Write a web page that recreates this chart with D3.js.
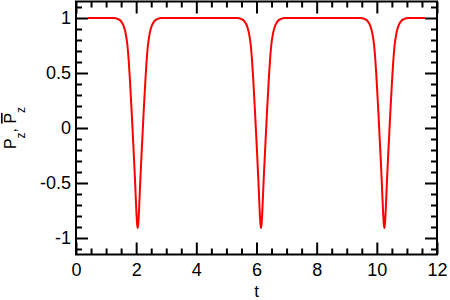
<!DOCTYPE html>
<html>
<head>
<meta charset="utf-8">
<script src="https://cdn.jsdelivr.net/npm/d3@7"></script>
<style>
  body { margin: 0; background: white; }
  text { font-family: 'Liberation Sans', Arial, sans-serif; }
</style>
</head>
<body>
<div id="canvas"></div>
<script>
'use strict';

// Series: time t and polarisation P_z
var T_VALUES = [
  0.4, 0.8, 1.25, 1.4, 1.5, 1.58, 1.65, 1.71, 1.75, 1.79, 1.85, 1.905, 1.96, 2.005, 2.03,
  2.05, 2.07, 2.095, 2.14, 2.195, 2.25, 2.31, 2.35, 2.39, 2.45, 2.52, 2.6, 2.7, 2.85, 4.0,
  5.35, 5.5, 5.6, 5.68, 5.75, 5.81, 5.85, 5.89, 5.95, 6.005, 6.06, 6.105, 6.13,
  6.15, 6.17, 6.195, 6.24, 6.295, 6.35, 6.41, 6.45, 6.49, 6.55, 6.62, 6.7, 6.8, 6.95, 8.1,
  9.45, 9.6, 9.7, 9.78, 9.85, 9.91, 9.95, 9.99, 10.05, 10.105, 10.16, 10.205, 10.23,
  10.25, 10.27, 10.295, 10.34, 10.395, 10.45, 10.51, 10.55, 10.59, 10.65, 10.72, 10.8, 10.9, 11.05, 11.6
];
var P_VALUES = [
  1.0, 1.0, 1.0, 0.99, 0.97, 0.93, 0.86, 0.75, 0.62, 0.45, 0.15, -0.15, -0.46, -0.75, -0.87,
  -0.91, -0.87, -0.75, -0.46, -0.15, 0.15, 0.45, 0.62, 0.75, 0.86, 0.93, 0.97, 0.99, 1.0, 1.0,
  1.0, 0.99, 0.97, 0.93, 0.86, 0.75, 0.62, 0.45, 0.15, -0.15, -0.46, -0.75, -0.87,
  -0.91, -0.87, -0.75, -0.46, -0.15, 0.15, 0.45, 0.62, 0.75, 0.86, 0.93, 0.97, 0.99, 1.0, 1.0,
  1.0, 0.99, 0.97, 0.93, 0.86, 0.75, 0.62, 0.45, 0.15, -0.15, -0.46, -0.75, -0.87,
  -0.91, -0.87, -0.75, -0.46, -0.15, 0.15, 0.45, 0.62, 0.75, 0.86, 0.93, 0.97, 0.99, 1.0, 1.0
];

var X_TICKS = [0, 2, 4, 6, 8, 10, 12];
var X_MINOR = [0.5, 1, 1.5, 2.5, 3, 3.5, 4.5, 5, 5.5, 6.5, 7, 7.5, 8.5, 9, 9.5, 10.5, 11, 11.5];
var Y_TICKS = [-1, -0.5, 0, 0.5, 1];
var Y_MINOR = [-1.1, -0.9, -0.8, -0.7, -0.6, -0.4, -0.3, -0.2, -0.1,
  0.1, 0.2, 0.3, 0.4, 0.6, 0.7, 0.8, 0.9, 1.1];

var WIDTH = 450;
var HEIGHT = 300;
var MARGIN = { left: 76, right: 13, top: 1.5, bottom: 45.5 };
var LABEL_SIZE = '18px';

var svg = d3.select('#canvas').append('svg')
  .attr('width', WIDTH)
  .attr('height', HEIGHT);

var x = d3.scaleLinear().domain([0, 12]).range([MARGIN.left, WIDTH - MARGIN.right]);
var y = d3.scaleLinear().domain([-1.15, 1.15]).range([HEIGHT - MARGIN.bottom, MARGIN.top]);

var points = T_VALUES.map(function(t, i) { return [t, P_VALUES[i]]; });

// curve first, frame and ticks drawn on top
svg.append('path')
  .datum(points)
  .attr('d', d3.line()
    .x(function(d) { return x(d[0]); })
    .y(function(d) { return y(d[1]); })
    .curve(d3.curveMonotoneX))
  .style('fill', 'none')
  .style('stroke', '#ff0000')
  .style('stroke-width', 2);

function drawAxis(axis, transform, labels) {
  var g = svg.append('g')
    .attr('transform', transform)
    .call(axis);
  g.select('.domain').remove();
  g.selectAll('line').style('stroke', 'black').style('stroke-width', 2);
  g.selectAll('text')
    .style('font-size', LABEL_SIZE)
    .style('font-family', "'Liberation Sans', Arial, sans-serif")
    .style('fill', 'black');
  if (!labels) g.selectAll('text').remove();
  return g;
}

var bottomY = HEIGHT - MARGIN.bottom;
var rightX = WIDTH - MARGIN.right;

drawAxis(d3.axisBottom(x).tickValues(X_TICKS).tickSizeInner(-12).tickSizeOuter(0).tickPadding(9)
  .tickFormat(d3.format('d')), 'translate(0,' + bottomY + ')', true);
drawAxis(d3.axisBottom(x).tickValues(X_MINOR).tickSizeInner(-6).tickSizeOuter(0),
  'translate(0,' + bottomY + ')', false);
drawAxis(d3.axisTop(x).tickValues(X_TICKS).tickSizeInner(-12).tickSizeOuter(0),
  'translate(0,' + MARGIN.top + ')', false);
drawAxis(d3.axisTop(x).tickValues(X_MINOR).tickSizeInner(-6).tickSizeOuter(0),
  'translate(0,' + MARGIN.top + ')', false);

drawAxis(d3.axisLeft(y).tickValues(Y_TICKS).tickSizeInner(-12).tickSizeOuter(0).tickPadding(5)
  .tickFormat(function(d) { return d === 0 ? '0' : String(d); }),
  'translate(' + MARGIN.left + ',0)', true);
drawAxis(d3.axisLeft(y).tickValues(Y_MINOR).tickSizeInner(-6).tickSizeOuter(0),
  'translate(' + MARGIN.left + ',0)', false);
drawAxis(d3.axisRight(y).tickValues(Y_TICKS).tickSizeInner(-12).tickSizeOuter(0),
  'translate(' + rightX + ',0)', false);
drawAxis(d3.axisRight(y).tickValues(Y_MINOR).tickSizeInner(-6).tickSizeOuter(0),
  'translate(' + rightX + ',0)', false);

svg.append('rect')
  .attr('x', MARGIN.left)
  .attr('y', MARGIN.top)
  .attr('width', rightX - MARGIN.left)
  .attr('height', bottomY - MARGIN.top)
  .style('fill', 'none')
  .style('stroke', 'black')
  .style('stroke-width', 2);

// axis titles
svg.append('text')
  .attr('x', (MARGIN.left + rightX) / 2)
  .attr('y', 297)
  .attr('text-anchor', 'middle')
  .style('font-size', '17px')
  .text('t');

var yTitle = svg.append('text')
  .attr('transform', 'translate(16,' + y(0) + ') rotate(-90)')
  .attr('text-anchor', 'middle')
  .style('font-size', '16px');
yTitle.append('tspan').text('P');
yTitle.append('tspan').attr('dy', 9).style('font-size', '12px').text('z');
yTitle.append('tspan').attr('dy', -9).text(', ');
yTitle.append('tspan').style('text-decoration', 'overline').text('P');
yTitle.append('tspan').attr('dy', 9).style('font-size', '12px').text('z');
</script>
</body>
</html>
